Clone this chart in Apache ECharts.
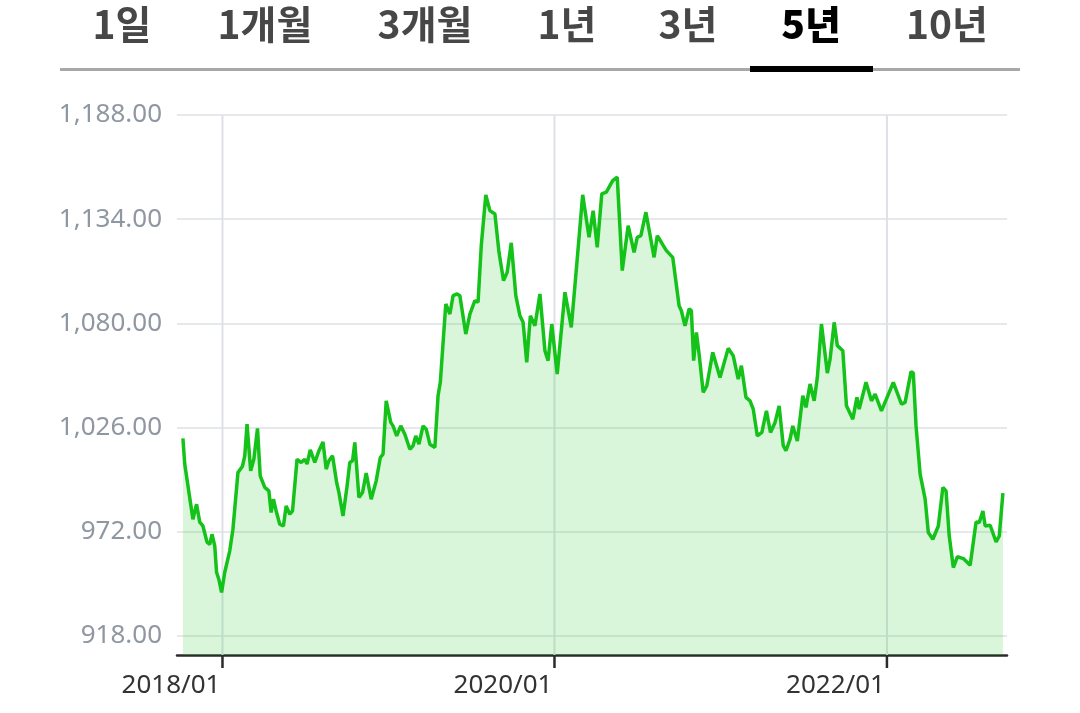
<!DOCTYPE html>
<html>
<head>
<meta charset="utf-8">
<script src="https://cdn.jsdelivr.net/npm/echarts@6/dist/echarts.min.js"></script>
<style>
  html, body { margin: 0; padding: 0; background: #fff; }
  #main { width: 1080px; height: 713px; }
</style>
</head>
<body>
<div id="main"></div>
<script>
// period tabs
var tabs = ['1일', '1개월', '3개월', '1년', '3년', '5년', '10년'];
var tabX = [122, 265, 425, 567, 688, 811, 947];
var activeTab = 5;

// price series
var dates = [
  '2017-10-06','2017-10-10','2017-10-28','2017-11-05','2017-11-12','2017-11-19','2017-11-28','2017-12-04','2017-12-09','2017-12-15',
  '2017-12-19','2017-12-24','2017-12-30','2018-01-06','2018-01-17','2018-01-24','2018-02-04','2018-02-14','2018-02-19','2018-02-24',
  '2018-03-04','2018-03-11','2018-03-19','2018-03-25','2018-04-04','2018-04-13','2018-04-18','2018-04-23','2018-04-29','2018-05-07',
  '2018-05-15','2018-05-21','2018-05-29','2018-06-04','2018-06-14','2018-06-23','2018-07-01','2018-07-06','2018-07-13','2018-07-23',
  '2018-08-01','2018-08-10','2018-08-17','2018-08-23','2018-08-31','2018-09-09','2018-09-14','2018-09-23','2018-10-02','2018-10-08',
  '2018-10-14','2018-10-19','2018-10-28','2018-11-05','2018-11-13','2018-11-24','2018-12-05','2018-12-14','2018-12-20','2018-12-27',
  '2019-01-06','2019-01-11','2019-01-19','2019-01-28','2019-02-06','2019-02-17','2019-02-24','2019-03-02','2019-03-09','2019-03-18',
  '2019-03-25','2019-04-02','2019-04-13','2019-04-20','2019-04-25','2019-05-07','2019-05-16','2019-05-23','2019-06-01','2019-06-07',
  '2019-06-20','2019-06-29','2019-07-10','2019-07-17','2019-07-24','2019-08-03','2019-08-12','2019-08-23','2019-09-01','2019-09-11',
  '2019-09-19','2019-09-28','2019-10-08','2019-10-17','2019-10-24','2019-11-01','2019-11-09','2019-11-19','2019-11-30','2019-12-11',
  '2019-12-18','2019-12-26','2020-01-07','2020-01-24','2020-02-07','2020-02-20','2020-03-03','2020-03-17','2020-03-26','2020-04-04',
  '2020-04-14','2020-04-24','2020-05-08','2020-05-18','2020-05-29','2020-06-11','2020-06-24','2020-07-01','2020-07-09','2020-07-20',
  '2020-08-07','2020-08-14','2020-08-23','2020-09-03','2020-09-17','2020-10-01','2020-10-06','2020-10-14','2020-10-23','2020-10-28',
  '2020-11-02','2020-11-08','2020-11-14','2020-11-23','2020-12-01','2020-12-14','2020-12-30','2021-01-17','2021-01-28','2021-02-08',
  '2021-02-15','2021-02-25','2021-03-06','2021-03-13','2021-03-22','2021-04-01','2021-04-11','2021-04-20','2021-04-30','2021-05-09',
  '2021-05-18','2021-05-24','2021-06-02','2021-06-08','2021-06-18','2021-06-30','2021-07-07','2021-07-16','2021-07-25','2021-08-01',
  '2021-08-10','2021-08-23','2021-08-29','2021-09-07','2021-09-14','2021-09-26','2021-10-04','2021-10-18','2021-10-27','2021-11-01',
  '2021-11-16','2021-11-28','2021-12-06','2021-12-20','2022-01-15','2022-02-02','2022-02-10','2022-02-23','2022-02-28','2022-03-06',
  '2022-03-15','2022-03-26','2022-04-02','2022-04-12','2022-04-24','2022-05-04','2022-05-11','2022-05-18','2022-05-27','2022-06-05',
  '2022-06-18','2022-07-03','2022-07-16','2022-07-23','2022-07-31','2022-08-05','2022-08-16','2022-08-29','2022-09-05','2022-09-13'
];
var prices = [
  1020.3, 1007.0, 978.4, 986.2, 976.9, 974.9, 966.5, 965.4, 970.6, 964.6,
  950.9, 947.3, 940.4, 950.9, 962.0, 973.2, 1002.6, 1005.9, 1011.3, 1027.7,
  1003.5, 1009.5, 1025.5, 1000.9, 994.9, 993.1, 981.9, 988.8, 982.7, 975.8,
  974.9, 985.3, 981.0, 982.7, 1009.5, 1007.8, 1009.5, 1007.0, 1014.4, 1007.8,
  1013.9, 1018.5, 1004.4, 1008.7, 1011.3, 997.5, 992.3, 980.1, 995.7, 1007.8,
  1008.7, 1018.2, 989.7, 992.3, 1002.3, 988.8, 998.3, 1010.4, 1012.1, 1039.8,
  1028.6, 1026.8, 1021.6, 1026.8, 1022.5, 1014.7, 1016.5, 1021.6, 1017.3, 1026.8,
  1025.1, 1017.3, 1015.6, 1042.4, 1049.4, 1090.0, 1084.8, 1094.3, 1095.2, 1094.3,
  1074.4, 1084.8, 1091.7, 1090.9, 1120.2, 1146.6, 1138.4, 1136.7, 1116.8, 1102.1,
  1106.4, 1121.7, 1094.3, 1083.9, 1080.5, 1059.7, 1083.9, 1078.7, 1095.2, 1065.8,
  1060.6, 1079.6, 1053.7, 1096.1, 1077.9, 1113.3, 1146.6, 1124.6, 1138.4, 1119.4,
  1147.1, 1148.0, 1154.0, 1155.8, 1107.3, 1130.6, 1116.8, 1124.6, 1125.4, 1137.6,
  1114.2, 1125.4, 1122.0, 1117.7, 1114.2, 1089.1, 1086.5, 1078.7, 1087.4, 1086.5,
  1060.6, 1075.3, 1064.0, 1044.2, 1047.6, 1064.9, 1051.9, 1067.0, 1063.2, 1051.1,
  1058.0, 1041.6, 1039.8, 1035.5, 1021.6, 1023.4, 1034.6, 1023.4, 1028.6, 1037.2,
  1016.5, 1013.9, 1019.9, 1026.8, 1019.0, 1042.4, 1036.4, 1048.5, 1039.8, 1052.0,
  1079.6, 1054.2, 1061.4, 1080.5, 1068.4, 1065.8, 1037.2, 1030.3, 1041.6, 1035.5,
  1049.4, 1039.8, 1043.3, 1034.6, 1049.4, 1038.1, 1039.0, 1054.9, 1054.2, 1026.8,
  1001.8, 988.8, 971.5, 968.0, 974.9, 994.9, 993.1, 969.7, 953.3, 959.0,
  958.0, 954.5, 977.0, 976.7, 982.7, 974.9, 975.3, 966.6, 969.7, 991.9
];

// axis ticks
var yMin = 908, yMax = 1188;
var yTicks = [918, 972, 1026, 1080, 1134, 1188];
var xTicks = ['2018-01-01', '2020-01-01', '2022-01-01'];
var xRange = ['2017-09-23', '2022-09-22'];

function toTime(s) {
  var p = s.split('-');
  return new Date(+p[0], +p[1] - 1, +p[2]).getTime();
}
function monthLabel(v) {
  var d = new Date(v);
  return d.getFullYear() + '/' + String(d.getMonth() + 1).padStart(2, '0');
}

var seriesData = [];
for (var i = 0; i < dates.length; i++) {
  seriesData.push([toTime(dates[i]), prices[i]]);
}
var xTickTimes = xTicks.map(toTime);

var graphics = [];
tabs.forEach(function (t, i) {
  graphics.push({
    type: 'text',
    x: tabX[i],
    y: 24,
    style: {
      text: t,
      textAlign: 'center',
      textVerticalAlign: 'middle',
      font: (i === activeTab ? '900 ' : 'bold ') + '39px "Noto Sans CJK KR", "Noto Sans", sans-serif',
      fill: i === activeTab ? '#000' : '#474747'
    }
  });
});
// tab bar baseline + active indicator
graphics.push({ type: 'rect', shape: { x: 60, y: 68, width: 960, height: 3 }, style: { fill: '#a8a8a8' } });
graphics.push({ type: 'rect', shape: { x: 750, y: 66, width: 123, height: 6 }, style: { fill: '#000' } });

var chart = echarts.init(document.getElementById('main'));
var option = {
  animation: false,
  backgroundColor: '#fff',
  graphic: graphics,
  grid: {
    left: 177,
    right: 73,
    top: 115,
    bottom: 58,
    containLabel: false
  },
  xAxis: {
    type: 'value',
    min: toTime(xRange[0]),
    max: toTime(xRange[1]),
    axisLine: { show: true, lineStyle: { color: '#2b2b2b', width: 2.5 } },
    axisTick: { show: false },
    axisLabel: { show: false },
    splitLine: { show: false }
  },
  yAxis: {
    type: 'value',
    min: yMin,
    max: yMax,
    axisLine: { show: false },
    axisTick: { show: false, customValues: yTicks },
    axisLabel: {
      customValues: yTicks,
      color: '#8f97a2',
      fontSize: 26,
      fontFamily: 'Noto Sans',
      margin: 15,
      formatter: function (v) {
        return v.toLocaleString('en-US', { minimumFractionDigits: 2, maximumFractionDigits: 2 });
      }
    },
    splitLine: { show: true, lineStyle: { color: '#e6e8ec', width: 2 } }
  },
  series: [{
    // date gridlines, ticks and labels at the labelled months
    type: 'custom',
    clip: false,
    silent: true,
    z: 1,
    data: xTickTimes.map(function (t) { return [t, yMin]; }),
    renderItem: function (params, api) {
      var bottom = api.coord([api.value(0), yMin]);
      var top = api.coord([api.value(0), yMax]);
      return {
        type: 'group',
        children: [{
          type: 'line',
          shape: { x1: top[0], y1: top[1], x2: bottom[0], y2: bottom[1] },
          style: { stroke: '#dde1e6', lineWidth: 2 }
        }, {
          type: 'line',
          z2: 10,
          shape: { x1: bottom[0], y1: bottom[1], x2: bottom[0], y2: bottom[1] + 13 },
          style: { stroke: '#2b2b2b', lineWidth: 2.5 }
        }, {
          type: 'text',
          style: {
            text: monthLabel(api.value(0)),
            x: bottom[0] - 2,
            y: bottom[1] + 18,
            align: 'right',
            verticalAlign: 'top',
            fontSize: 26,
            fontFamily: 'Noto Sans',
            fill: '#333'
          }
        }]
      };
    }
  }, {
    type: 'line',
    data: seriesData,
    showSymbol: false,
    symbol: 'none',
    lineStyle: { color: '#14c21a', width: 3.5 },
    areaStyle: { color: 'rgba(30, 200, 40, 0.17)', opacity: 1 },
    z: 3
  }]
};
chart.setOption(option);
</script>
</body>
</html>
